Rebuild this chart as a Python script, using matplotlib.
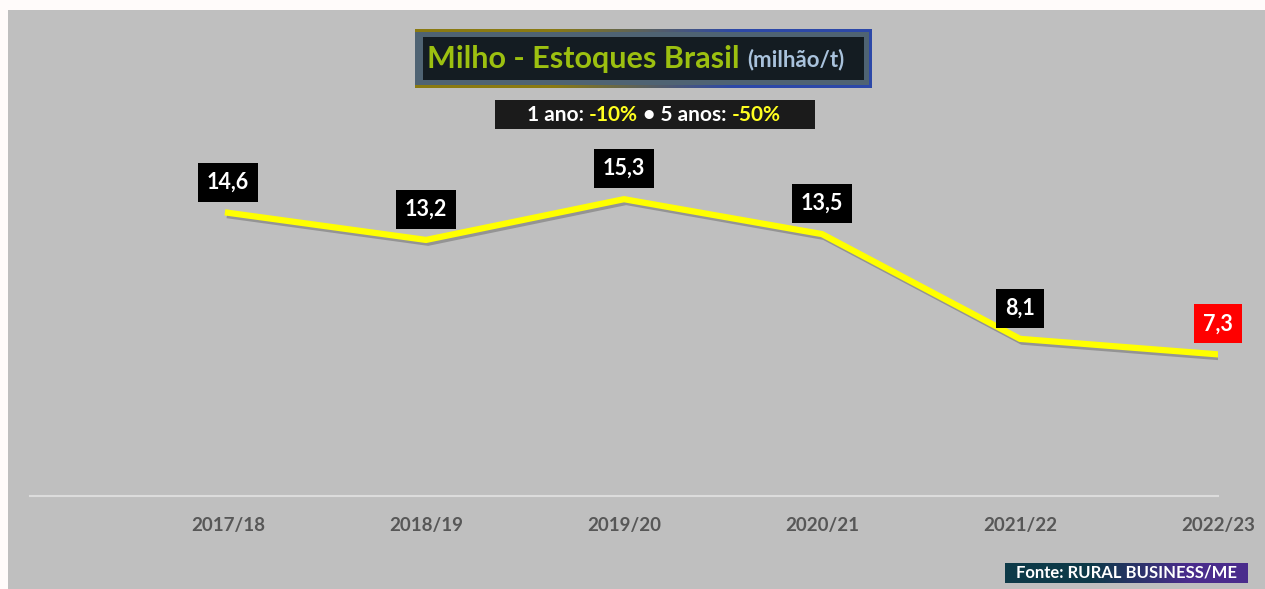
import numpy as np
import matplotlib
matplotlib.use("Agg")
import matplotlib.pyplot as plt
from matplotlib.patches import Rectangle
import matplotlib.patheffects as pe

# data
safras = ["2017/18", "2018/19", "2019/20", "2020/21", "2021/22", "2022/23"]
estoques = [14.6, 13.2, 15.3, 13.5, 8.1, 7.3]
rotulos = ["14,6", "13,2", "15,3", "13,5", "8,1", "7,3"]

W, H = 1265, 589
FONT = "Lato"


def box(x0, y0, x1, y1):
    """pixel box (top-left origin) -> figure fraction rect"""
    return [x0 / W, 1 - y1 / H, (x1 - x0) / W, (y1 - y0) / H]


def add_rect(fig, x0, y0, x1, y1, color, z=1):
    l, b, w, h = box(x0, y0, x1, y1)
    fig.add_artist(Rectangle((l, b), w, h, transform=fig.transFigure,
                             facecolor=color, edgecolor="none", zorder=z))


def gradient_axes(fig, x0, y0, x1, y1, c0, c1, split=0.5):
    gax = fig.add_axes(box(x0, y0, x1, y1))
    n = 200
    t = np.clip((np.linspace(0, 1, n) - split + 0.2) / 0.4, 0, 1)
    a = np.array(matplotlib.colors.to_rgb(c0))
    b = np.array(matplotlib.colors.to_rgb(c1))
    img = a[None, :] * (1 - t[:, None]) + b[None, :] * t[:, None]
    gax.imshow(img[None, :, :], aspect="auto", extent=(0, 1, 0, 1))
    gax.set_axis_off()
    return gax


fig = plt.figure(figsize=(W / 100, H / 100), dpi=100, facecolor="#fffbfa")

# gray panel (behind everything)
add_rect(fig, 8, 10, W, H, "#bfbfbf", z=-10)

# main axes
ax = fig.add_axes(box(30, 108, 1218, 496))
ax.patch.set_visible(False)
x = np.arange(1, len(safras) + 1)
ax.plot(x, estoques, color="#ffff00", lw=4.5, solid_joinstyle="miter",
        path_effects=[pe.SimpleLineShadow(offset=(1.5, -2), shadow_color="#444444", alpha=0.35),
                      pe.Normal()])
ax.set_xlim(0, len(safras))
ax.set_ylim(0, 20)
ax.set_xticks(x)
ax.set_xticklabels(safras, family=FONT, fontweight="bold", fontsize=13.5, color="#575757")
ax.tick_params(axis="x", length=0, pad=15)
ax.set_yticks([])
for s in ["top", "left", "right"]:
    ax.spines[s].set_visible(False)
ax.spines["bottom"].set_color("#dcdcdc")
ax.spines["bottom"].set_linewidth(1.5)

for i, (xi, yi, lab) in enumerate(zip(x, estoques, rotulos)):
    fc = "#ff0000" if i == len(estoques) - 1 else "black"
    ax.annotate(lab, (xi, yi), xytext=(0, 22), textcoords="offset points",
                ha="center", va="center", family=FONT, fontweight="bold",
                fontsize=15.5, color="white",
                bbox=dict(boxstyle="square,pad=0.42", fc=fc, ec="none"))

# title box
gradient_axes(fig, 415, 29, 872, 88, "#8a7a12", "#2c48a8", split=0.5)
add_rect(fig, 415, 32, 418, 85, "#4f6373", z=2)
add_rect(fig, 418, 32, 869, 85, "#4f6373", z=2)
add_rect(fig, 423, 37, 864, 80, "#141c22", z=2)
t1 = fig.text(427 / W, 1 - 59 / H, "Milho - Estoques Brasil", family=FONT,
              fontweight="bold", fontsize=22, color="#9cc010", va="center", zorder=5)
fig.canvas.draw()
ext = t1.get_window_extent()
fig.text((ext.x1 + 8) / W, 1 - 60 / H, "(milhão/t)", family=FONT,
         fontweight="bold", fontsize=16, color="#a9c2dc", va="center", zorder=5)

# subtitle box
add_rect(fig, 495, 100, 815, 129, "#1b1b1b", z=2)
pieces = [("1 ano: ", "white"), ("-10%", "#ffff20"), (" \u2022 5 anos: ", "white"), ("-50%", "#ffff20")]
xpos = 527
for txt, col in pieces:
    t = fig.text(xpos / W, 1 - 115 / H, txt, family=FONT, fontweight="bold",
                 fontsize=15, color=col, va="center", zorder=5)
    fig.canvas.draw()
    xpos = t.get_window_extent().x1

# source box
gradient_axes(fig, 1005, 563, 1248, 583, "#0d3a48", "#4a2c8c", split=0.55)
fig.text(1126 / W, 1 - 573 / H, "Fonte: RURAL BUSINESS/ME", family=FONT,
         fontweight="bold", fontsize=12, color="white", ha="center", va="center", zorder=5)

fig.savefig("out.png", dpi=100, facecolor=fig.get_facecolor())
